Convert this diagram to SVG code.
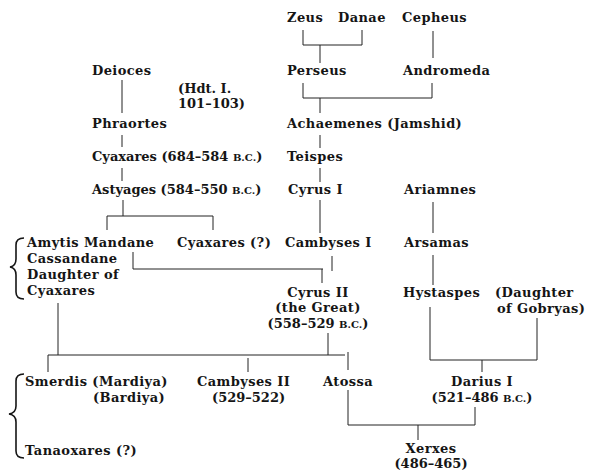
<svg xmlns="http://www.w3.org/2000/svg" width="589" height="472" viewBox="0 0 589 472">
<style>
text{font-family:"DejaVu Serif","Liberation Serif",serif;font-weight:bold;font-size:13px;letter-spacing:0.4px;fill:#151515}
.d{letter-spacing:0}
.sc{font-size:10px}
.m{text-anchor:middle}
#connectors line{stroke:#222;stroke-width:1;fill:none}
.brace{stroke:#151515;stroke-width:1.6;fill:none}
</style>
<rect width="589" height="472" fill="#fff"/>
<g id="connectors">
<line x1="303" y1="30" x2="303" y2="45"/><line x1="362" y1="30" x2="362" y2="45"/><line x1="303" y1="45" x2="362" y2="45"/><line x1="320" y1="45" x2="320" y2="63"/>
<line x1="433" y1="31" x2="433" y2="58"/>
<line x1="303" y1="83" x2="303" y2="98"/><line x1="432" y1="83" x2="432" y2="98"/><line x1="303" y1="98" x2="432" y2="98"/><line x1="320" y1="98" x2="320" y2="113"/>
<line x1="320" y1="135" x2="320" y2="148"/>
<line x1="320" y1="168" x2="320" y2="182"/>
<line x1="320" y1="200" x2="320" y2="233"/>
<line x1="122" y1="80" x2="122" y2="113"/>
<line x1="122" y1="135" x2="122" y2="147"/>
<line x1="122" y1="168" x2="122" y2="181"/>
<line x1="123" y1="200" x2="123" y2="216"/><line x1="107" y1="216" x2="213" y2="216"/><line x1="107" y1="216" x2="107" y2="230"/><line x1="213" y1="216" x2="213" y2="230"/>
<line x1="433" y1="202" x2="433" y2="233"/>
<line x1="433" y1="255" x2="433" y2="285"/>
<line x1="133" y1="252" x2="133" y2="269"/><line x1="133" y1="269" x2="323" y2="269"/><line x1="322" y1="269" x2="322" y2="283"/><line x1="332" y1="256" x2="332" y2="271"/>
<line x1="58" y1="303" x2="58" y2="355"/>
<line x1="328" y1="333" x2="328" y2="355"/>
<line x1="48" y1="355" x2="345" y2="355"/>
<line x1="48" y1="355" x2="48" y2="372"/><line x1="248" y1="358" x2="248" y2="372"/><line x1="348" y1="352" x2="348" y2="370"/>
<line x1="430" y1="307" x2="430" y2="360"/><line x1="430" y1="360" x2="537" y2="360"/><line x1="537" y1="318" x2="537" y2="360"/><line x1="482" y1="360" x2="482" y2="372"/>
<line x1="348" y1="390" x2="348" y2="425"/><line x1="348" y1="425" x2="475" y2="425"/><line x1="475" y1="407" x2="475" y2="425"/><line x1="418" y1="425" x2="418" y2="440"/>
</g>
<g id="n-zeus"><text x="287" y="22">Zeus</text></g>
<g id="n-danae"><text x="338" y="22">Danae</text></g>
<g id="n-cepheus"><text x="402" y="22">Cepheus</text></g>
<g id="n-perseus"><text x="287" y="75">Perseus</text></g>
<g id="n-andromeda"><text x="403" y="75">Andromeda</text></g>
<g id="n-deioces"><text x="92" y="75">Deioces</text></g>
<g id="note-hdt"><text class="d" x="178" y="93">(Hdt. I.</text><text class="d" x="178" y="108">101–103)</text></g>
<g id="n-achaemenes"><text x="287" y="128">Achaemenes (Jamshid)</text></g>
<g id="n-phraortes"><text x="92" y="128">Phraortes</text></g>
<g id="n-teispes"><text x="287" y="161">Teispes</text></g>
<g id="n-cyaxares"><text class="d" x="92" y="161">Cyaxares (684–584 <tspan class="sc">B.C.</tspan>)</text></g>
<g id="n-cyrus1"><text x="288" y="194">Cyrus I</text></g>
<g id="n-astyages"><text class="d" x="92" y="194">Astyages (584–550 <tspan class="sc">B.C.</tspan>)</text></g>
<g id="n-ariamnes"><text x="404" y="194">Ariamnes</text></g>
<g id="n-amytis">
<path class="brace" d="M24,238 Q16,238 16,245 L16,259 Q16,266 10,267 Q16,268 16,275 L16,292 Q16,299 24,299"/>
<text x="27" y="247">Amytis Mandane</text><text x="27" y="263">Cassandane</text><text x="27" y="279">Daughter of</text><text x="27" y="295">Cyaxares</text></g>
<g id="n-cyaxares2"><text x="177" y="247">Cyaxares (?)</text></g>
<g id="n-cambyses1"><text x="285" y="247">Cambyses I</text></g>
<g id="n-arsamas"><text x="404" y="247">Arsamas</text></g>
<g id="n-cyrus2"><text class="m" x="318" y="297">Cyrus II</text><text class="m" x="318" y="312">(the Great)</text><text class="m d" x="318" y="328">(558–529 <tspan class="sc">B.C.</tspan>)</text></g>
<g id="n-hystaspes"><text x="403" y="297">Hystaspes</text></g>
<g id="n-gobryas"><text x="495" y="297">(Daughter</text><text x="497" y="313">of Gobryas)</text></g>
<g id="n-smerdis-tanaoxares">
<path class="brace" d="M24,374 Q16,374 16,381 L16,406 Q16,413 9,414 Q16,415 16,422 L16,451 Q16,458 24,458"/>
<text x="25" y="386">Smerdis (Mardiya)</text><text x="93" y="402">(Bardiya)</text>
<text x="25" y="455">Tanaoxares (?)</text></g>
<g id="n-cambyses2"><text x="197" y="386">Cambyses II</text><text class="d" x="212" y="402">(529–522)</text></g>
<g id="n-atossa"><text x="323" y="386">Atossa</text></g>
<g id="n-darius"><text class="m" x="482" y="386">Darius I</text><text class="m d" x="482" y="402">(521–486 <tspan class="sc">B.C.</tspan>)</text></g>
<g id="n-xerxes"><text class="m" x="431" y="453">Xerxes</text><text class="m d" x="431" y="468">(486–465)</text></g>
</svg>
